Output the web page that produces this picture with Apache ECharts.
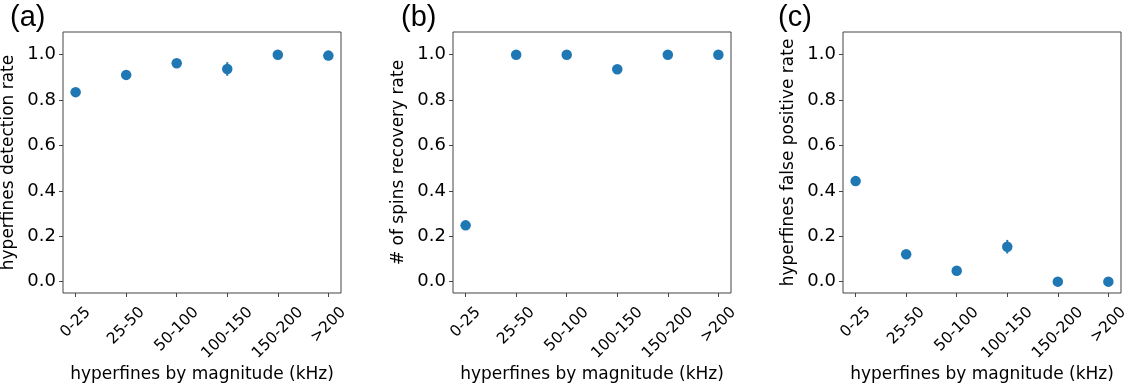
<!DOCTYPE html>
<html>
<head>
<meta charset="utf-8">
<script src="https://cdn.jsdelivr.net/npm/echarts@6/dist/echarts.min.js"></script>
<style>
html,body{margin:0;padding:0;background:#fff;}
#chart{width:1131px;height:392px;}
</style>
</head>
<body>
<div id="chart"></div>
<script>
const categories = ['0-25', '25-50', '50-100', '100-150', '150-200', '>200'];
const yTicks = [0, 0.2, 0.4, 0.6, 0.8, 1.0];

const detection = [0.835, 0.911, 0.962, 0.937, 1.0, 0.996];
const detectionErr = [0.01, 0.01, 0.01, 0.03, 0.0, 0.005];

const recovery = [0.248, 1.0, 1.0, 0.936, 1.0, 1.0];
const recoveryErr = [0.02, 0.0, 0.0, 0.01, 0.0, 0.0];

const falsePositive = [0.443, 0.121, 0.048, 0.154, 0.0, 0.0];
const falsePositiveErr = [0.01, 0.01, 0.01, 0.03, 0.0, 0.0];

const panelLabels = ['(a)', '(b)', '(c)'];
const yNames = ['hyperfines detection rate', '# of spins recovery rate', 'hyperfines false positive rate'];
const xName = 'hyperfines by magnitude (kHz)';

const panels = [
  {vals: detection, errs: detectionErr},
  {vals: recovery, errs: recoveryErr},
  {vals: falsePositive, errs: falsePositiveErr}
];

const gridLefts = [63, 453, 843];
const gridWidth = 278;
const gridTop = 32;
const gridHeight = 261;
const titleLefts = [5, 396, 773];

const FONT = 'DejaVu Sans';
const TICK_FS = 18;
const XTICK_FS = 15.5;
const BORDER = '#444';
const BLUE = '#1f77b4';

// Matplotlib-like rotated label placement (rotation=45, ha='center'):
// pad each label so that the rotated bounding box top is aligned for all labels.
const measureCtx = document.createElement('canvas').getContext('2d');
measureCtx.font = XTICK_FS + 'px "' + FONT + '"';
const rich = {};
categories.forEach((c, k) => {
  const w = measureCtx.measureText(c).width;
  rich['c' + k] = {
    fontFamily: FONT, fontSize: XTICK_FS, color: '#000',
    padding: [w / 2, w / 2, 0, 0]
  };
});

const option = {
  animation: false,
  backgroundColor: '#fff',
  title: panelLabels.map((t, i) => ({
    text: t, left: titleLefts[i], top: -2,
    textStyle: {fontFamily: 'Liberation Sans', fontSize: 29, fontWeight: 'normal', color: '#000'}
  })),
  grid: gridLefts.map(l => ({
    left: l, top: gridTop, width: gridWidth, height: gridHeight,
    containLabel: false, outerBoundsMode: 'none',
    show: true, borderColor: BORDER, borderWidth: 1, backgroundColor: 'transparent'
  })),
  xAxis: gridLefts.map((l, i) => ({
    gridIndex: i, type: 'value', min: -0.25, max: 5.25, position: 'bottom',
    splitLine: {show: false},
    axisLine: {show: false, onZero: false},
    axisTick: {show: true, length: 4, lineStyle: {color: BORDER}, customValues: categories.map((c, k) => k)},
    axisLabel: {
      show: true, rotate: 45, margin: 17, align: 'center', verticalAlign: 'middle',
      fontFamily: FONT, fontSize: XTICK_FS, color: '#000',
      customValues: categories.map((c, k) => k),
      formatter: v => { const k = Math.round(v); return '{c' + k + '|' + categories[k] + '}'; },
      rich: rich
    },
    name: xName, nameLocation: 'middle', nameGap: 73, nameMoveOverlap: false,
    nameTextStyle: {fontFamily: FONT, fontSize: 17, color: '#000'}
  })),
  yAxis: gridLefts.map((l, i) => ({
    gridIndex: i, type: 'value', min: -0.05, max: 1.1, position: 'left',
    splitLine: {show: false},
    axisLine: {show: false, onZero: false},
    axisTick: {show: true, length: 4, lineStyle: {color: BORDER}, customValues: yTicks},
    axisLabel: {
      show: true, margin: 7, fontFamily: FONT, fontSize: TICK_FS, color: '#000',
      customValues: yTicks,
      formatter: v => v.toFixed(1)
    },
    name: yNames[i], nameLocation: 'middle', nameRotate: 90, nameGap: 46, nameMoveOverlap: false,
    nameTextStyle: {fontFamily: FONT, fontSize: 17, color: '#000'}
  })),
  series: []
};

panels.forEach((p, i) => {
  option.series.push({
    type: 'custom', xAxisIndex: i, yAxisIndex: i, z: 2,
    data: p.vals.map((v, k) => [k, v - p.errs[k], v + p.errs[k]]),
    renderItem: (params, api) => {
      const a = api.coord([api.value(0), api.value(1)]);
      const b = api.coord([api.value(0), api.value(2)]);
      return {type: 'line', shape: {x1: a[0], y1: a[1], x2: b[0], y2: b[1]},
              style: {stroke: BLUE, lineWidth: 2}};
    }
  });
  option.series.push({
    type: 'scatter', xAxisIndex: i, yAxisIndex: i, z: 3,
    symbol: 'circle', symbolSize: 10.5,
    itemStyle: {color: BLUE, opacity: 1},
    data: p.vals.map((v, k) => [k, v])
  });
});

const chart = echarts.init(document.getElementById('chart'), null, {renderer: 'canvas'});
chart.setOption(option);
</script>
</body>
</html>
